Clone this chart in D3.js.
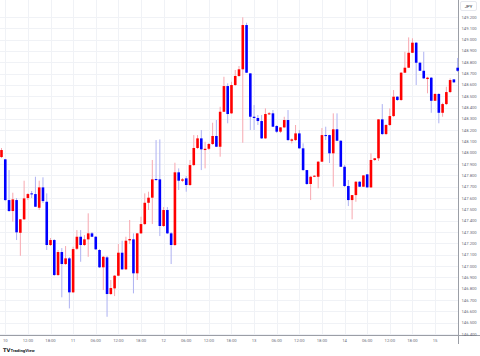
<!DOCTYPE html>
<html><head><meta charset="utf-8">
<script src="https://cdn.jsdelivr.net/npm/d3@7"></script>
<style>body{margin:0;background:#fff}svg{display:block}</style>
</head><body><svg id="c" width="480" height="356"></svg>
<script>
const opens=[147.963,147.943,147.583,147.486,147.583,147.294,147.413,147.601,147.642,147.636,147.515,147.695,147.568,147.186,147.230,146.921,147.124,147.018,147.068,146.768,147.153,147.259,147.186,147.236,147.289,147.259,147.142,146.989,147.077,146.753,146.803,146.915,147.118,146.971,147.227,147.236,146.936,147.289,147.371,147.559,147.604,147.769,147.766,147.354,147.495,147.289,147.186,147.828,147.754,147.775,147.716,147.892,148.043,148.128,148.025,148.036,148.078,148.149,148.054,148.363,148.590,148.349,148.599,148.679,148.738,149.129,148.702,148.319,148.308,148.281,148.128,148.340,148.349,148.237,148.187,148.225,148.290,148.107,148.113,148.172,148.040,147.848,147.725,147.789,147.789,147.922,148.157,148.157,147.996,148.208,148.107,147.877,147.707,147.583,147.627,147.745,147.701,147.810,147.695,147.937,147.952,148.296,148.166,148.246,148.325,148.496,148.467,148.708,148.752,148.884,148.973,148.796,148.725,148.652,148.664,148.460,148.520,148.354,148.431,148.537,148.649,148.752];
const highs=[148.043,147.945,147.848,147.648,147.601,147.415,147.754,147.645,147.663,147.789,147.754,147.784,147.642,147.248,147.239,147.142,147.159,147.177,147.080,147.171,147.318,147.318,147.274,147.466,147.301,147.265,147.150,147.089,147.089,146.877,146.921,147.195,147.224,147.259,147.407,147.289,147.292,147.436,147.642,147.657,147.937,148.113,148.119,147.521,147.521,147.301,147.913,147.863,147.778,147.795,147.937,148.157,148.157,148.202,148.098,148.087,148.266,148.290,148.407,148.672,148.614,148.628,148.732,148.767,149.197,149.149,148.705,148.422,148.334,148.334,148.393,148.361,148.378,148.246,148.228,148.319,148.378,148.128,148.246,148.202,148.084,147.848,147.795,147.804,147.928,148.219,148.231,148.160,148.349,148.349,148.113,147.892,147.760,147.627,147.751,147.751,147.804,147.813,147.996,147.954,148.299,148.431,148.255,148.393,148.555,148.502,148.714,148.893,149.020,149.012,148.979,148.805,148.893,148.672,148.670,148.528,148.528,148.443,148.584,148.658,148.652,148.838];
const lows=[147.954,147.574,147.480,147.392,147.230,147.091,147.407,147.583,147.601,147.521,147.495,147.557,147.142,147.177,146.912,146.912,146.724,147.009,146.626,146.762,147.142,147.038,147.177,147.082,147.256,147.142,146.983,146.788,146.552,146.744,146.735,146.912,146.965,146.965,147.195,146.759,146.877,147.283,147.362,147.495,147.371,147.751,147.265,147.345,147.283,147.018,147.177,147.672,147.742,147.657,147.707,147.883,148.034,147.848,147.863,148.025,148.069,148.051,147.966,148.361,148.261,148.343,148.590,148.670,148.089,148.705,148.202,148.202,148.246,148.122,148.122,148.334,148.228,148.175,148.175,148.219,148.104,148.084,148.104,148.034,147.839,147.716,147.583,147.786,147.687,147.919,148.113,147.910,147.701,148.104,147.875,147.698,147.530,147.413,147.568,147.698,147.698,147.689,147.689,147.928,147.928,148.157,148.157,148.237,148.316,148.458,148.458,148.705,148.749,148.882,148.599,148.723,148.652,148.526,148.354,148.458,148.261,148.319,148.422,148.528,148.617,148.714];
const closes=[148.025,147.583,147.486,147.589,147.298,147.413,147.598,147.636,147.634,147.524,147.695,147.574,147.186,147.230,146.921,147.124,147.018,147.068,146.768,147.150,147.259,147.186,147.236,147.289,147.259,147.148,146.989,147.082,146.753,146.806,146.915,147.118,146.971,147.224,147.239,146.936,147.289,147.371,147.559,147.604,147.766,147.760,147.354,147.495,147.289,147.186,147.828,147.754,147.766,147.716,147.892,148.043,148.128,148.031,148.036,148.078,148.149,148.054,148.363,148.590,148.343,148.599,148.679,148.738,149.129,148.708,148.319,148.308,148.281,148.128,148.343,148.349,148.231,148.187,148.225,148.290,148.113,148.119,148.172,148.040,147.848,147.725,147.789,147.798,147.922,148.157,148.154,147.996,148.208,148.107,147.877,147.707,147.583,147.627,147.745,147.701,147.801,147.695,147.937,147.952,148.296,148.166,148.246,148.325,148.496,148.467,148.708,148.752,148.884,148.973,148.796,148.725,148.658,148.664,148.460,148.520,148.354,148.431,148.537,148.643,148.623,148.725];
const timeTickIndex=[1,7,13,19,25,31,37,43,49,55,61,67,73,79,85,91,97,103,109,115];
const timeTickLabels=["10","12:00","18:00","11","06:00","12:00","18:00","12","06:00","12:00","18:00","13","06:00","12:00","18:00","14","06:00","12:00","18:00","15"];
const priceTicks=[146.4,146.5,146.6,146.7,146.8,146.9,147.0,147.1,147.2,147.3,147.4,147.5,147.6,147.7,147.8,147.9,148.0,148.1,148.2,148.3,148.4,148.5,148.6,148.7,148.8,148.9,149.0,149.1,149.2];
const currency="JPY";

const W=480,H=356, plotR=458, plotB=335;
const svg=d3.select("#c");
svg.append("rect").attr("width",W).attr("height",H).attr("fill","#fff");
const n=opens.length;
const x=d3.scaleLinear().domain([0,n-1]).range([1.5,1.5+3.77*(n-1)]);
const y=d3.scaleLinear().domain([146.4,149.2]).range([334,17]);
const fmt=d3.format(".3f");

// grid
const g=svg.append("g");
g.selectAll("line.h").data(priceTicks).join("line")
 .attr("x1",0).attr("x2",plotR).attr("y1",d=>Math.round(y(d))+0.5).attr("y2",d=>Math.round(y(d))+0.5)
 .attr("stroke","#f0f2f6").attr("stroke-width",1);
g.selectAll("line.v").data(timeTickIndex).join("line")
 .attr("y1",0).attr("y2",plotB).attr("x1",d=>Math.round(x(d))+0.5).attr("x2",d=>Math.round(x(d))+0.5)
 .attr("stroke","#f0f2f6").attr("stroke-width",1);

// axes lines
svg.append("line").attr("x1",plotR+0.5).attr("x2",plotR+0.5).attr("y1",0).attr("y2",H-12).attr("stroke","#9b9ea6").attr("stroke-width",1);
svg.append("line").attr("x1",0).attr("x2",W).attr("y1",plotB+0.5).attr("y2",plotB+0.5).attr("stroke","#9b9ea6").attr("stroke-width",1);

// price labels
svg.append("g").selectAll("text").data(priceTicks).join("text")
 .attr("x",461.5).attr("y",d=>y(d)+1.5).text(d=>fmt(d))
 .attr("font-family","Roboto, 'Liberation Sans', sans-serif").attr("font-size",4.2).attr("fill","#6a6d78");

// time labels
svg.append("g").selectAll("text").data(timeTickIndex).join("text")
 .attr("x",d=>x(d)).attr("y",342).attr("text-anchor","middle").text((d,i)=>timeTickLabels[i])
 .attr("font-family","Roboto, 'Liberation Sans', sans-serif").attr("font-size",4.2).attr("fill","#6a6d78");

// currency tag
svg.append("rect").attr("x",460.5).attr("y",1.5).attr("width",16).attr("height",9).attr("rx",1.5).attr("fill","#fff").attr("stroke","#e6e8ee");
svg.append("text").attr("x",468.5).attr("y",7.5).attr("text-anchor","middle").text(currency)
 .attr("font-family","Roboto, 'Liberation Sans', sans-serif").attr("font-size",4.2).attr("fill","#131722");

// candles
const idx=d3.range(n);
const up=i=>closes[i]>=opens[i];
const cg=svg.append("g");
cg.selectAll("line.w").data(idx).join("line")
 .attr("x1",i=>x(i)).attr("x2",i=>x(i)).attr("y1",i=>y(highs[i])).attr("y2",i=>y(lows[i]))
 .attr("stroke",i=>up(i)?"#f7a8b0":"#aeb2f2").attr("stroke-width",1);
const bw=2.6;
cg.selectAll("rect").data(idx).join("rect")
 .attr("x",i=>x(i)-bw/2).attr("width",bw)
 .attr("y",i=>y(Math.max(opens[i],closes[i])))
 .attr("height",i=>Math.max(1,Math.abs(y(opens[i])-y(closes[i]))))
 .attr("fill",i=>up(i)?"#ff0000":"#0000ff");

// logo
const lg=svg.append("g");
lg.append("text").attr("x",3).attr("y",351.5).text("TV").attr("font-family","'DejaVu Sans', sans-serif").attr("font-weight","bold").attr("font-size",5).attr("fill","#131722");
lg.append("text").attr("x",10.5).attr("y",351.5).text("TradingView").attr("font-family","Roboto, 'Liberation Sans', sans-serif").attr("font-weight","bold").attr("font-size",4.3).attr("fill","#131722");
</script></body></html>
